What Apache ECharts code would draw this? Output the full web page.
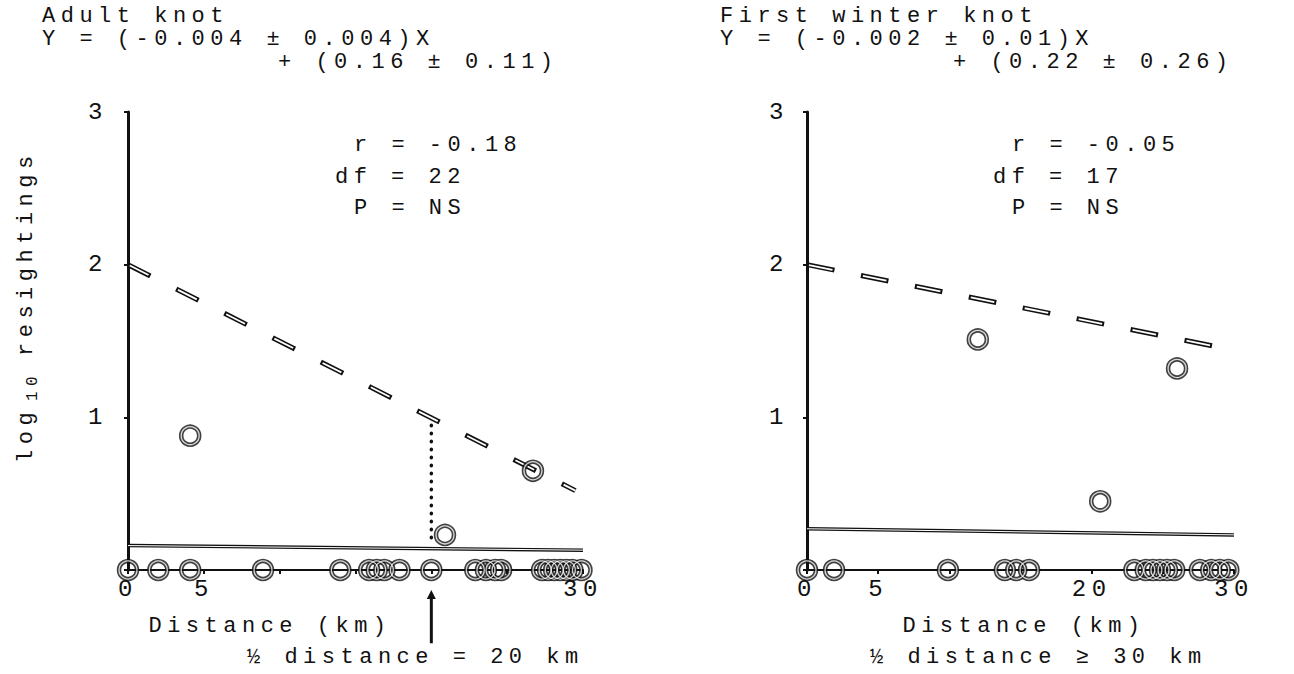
<!DOCTYPE html>
<html>
<head>
<meta charset="utf-8">
<script src="https://cdn.jsdelivr.net/npm/echarts@6/dist/echarts.min.js"></script>
<style>
html,body{margin:0;padding:0;background:#fff;}
#c{width:1294px;height:674px;}
svg text{letter-spacing:5.5px;}
</style>
</head>
<body>
<div id="c"></div>
<script>
// ---------- data ----------
const adultBaseX = [0, 2.0, 4.1, 8.9, 14.0, 15.9, 16.4, 16.9, 17.9, 20.0, 22.9, 23.6, 24.2, 24.6, 27.3, 27.7, 28.1, 28.5, 28.9, 29.3, 29.9];
const adultOtherX = [4.1, 26.7, 20.9];
const adultOtherY = [0.88, 0.65, 0.23];
const firstBaseX = [0, 1.9, 9.9, 13.9, 14.7, 15.6, 23.0, 23.8, 24.3, 24.8, 25.3, 25.8, 27.6, 28.4, 29.0, 29.6];
const firstOtherX = [12.0, 26.0, 20.6];
const firstOtherY = [1.51, 1.32, 0.45];

const fitX = [0, 30];
const adultFitY = [0.16, 0.13];
const firstFitY = [0.27, 0.23];
const adultHalfX = [0, 29.5];
const adultHalfY = [2.0, 0.52];
const firstHalfX = [0, 30];
const firstHalfY = [2.0, 1.44];
const adultHalfDistX = [20, 20];
const adultHalfDistY = [1.0, 0.18];
const arrowY = [-0.16, -0.48];

const yTickLabels = [1, 2, 3];
const adultXTickLabels = [0, 5, 30];
const firstXTickLabels = [0, 5, 20, 30];

// ---------- helpers ----------
const zip = (xs, ys) => xs.map((x, i) => [x, ys[i]]);
const FONT = '"Liberation Mono", "DejaVu Sans Mono", monospace';
const INK = '#111';
const FS = 22;

function ringSeries(data, gi) {
  return [
    {type: 'scatter', xAxisIndex: gi, yAxisIndex: gi, data, clip: false, symbol: 'circle', symbolSize: 18,
     itemStyle: {color: 'rgba(0,0,0,0)', borderColor: INK, borderWidth: 4.5}, z: 5, silent: true},
    {type: 'scatter', xAxisIndex: gi, yAxisIndex: gi, data, clip: false, symbol: 'circle', symbolSize: 18,
     itemStyle: {color: 'rgba(0,0,0,0)', borderColor: '#fff', borderWidth: 1.3}, z: 6, silent: true}
  ];
}
function hollowDash(data, gi, dash, gap) {
  return [
    {type: 'line', xAxisIndex: gi, yAxisIndex: gi, data, showSymbol: false, silent: true, z: 3,
     lineStyle: {color: INK, width: 5, type: [dash, gap]}},
    {type: 'line', xAxisIndex: gi, yAxisIndex: gi, data, showSymbol: false, silent: true, z: 4,
     lineStyle: {color: '#fff', width: 1.8, type: [dash - 4, gap + 4], dashOffset: -2}}
  ];
}
function fitSeries(data, gi) {
  return [
    {type: 'line', xAxisIndex: gi, yAxisIndex: gi, data, showSymbol: false, silent: true, z: 3,
     lineStyle: {color: INK, width: 3.5}},
    {type: 'line', xAxisIndex: gi, yAxisIndex: gi, data, showSymbol: false, silent: true, z: 4,
     lineStyle: {color: '#fff', width: 1}}
  ];
}
function xAxis(gi, labels) {
  return {
    type: 'value', gridIndex: gi, min: 0, max: 30, interval: 5,
    axisLine: {show: true, onZero: false, lineStyle: {color: INK, width: 2}},
    axisTick: {show: true, length: 4, lineStyle: {color: INK, width: 2}},
    splitLine: {show: false},
    axisLabel: {margin: 7, color: INK, fontFamily: FONT, fontSize: FS + 2,
      formatter: v => labels.includes(v) ? String(v) : ''}
  };
}
function yAxis(gi, margin) {
  return {
    type: 'value', gridIndex: gi, min: 0, max: 3, interval: 1,
    axisLine: {show: true, lineStyle: {color: INK, width: 3}},
    axisTick: {show: true, length: 4, lineStyle: {color: INK, width: 2}},
    splitLine: {show: false},
    axisLabel: {margin, color: INK, fontFamily: FONT, fontSize: FS + 2,
      formatter: v => yTickLabels.includes(v) ? String(v) : ''}
  };
}
function txt(text, x, y, align, size, rot) {
  return {type: 'text', x, y, silent: true, rotation: rot || 0,
    style: {text, fill: INK, font: (size || FS) + 'px ' + FONT, align: align || 'left', verticalAlign: 'middle'}};
}

const chart = echarts.init(document.getElementById('c'), null, {renderer: 'svg'});

const option = {
  backgroundColor: '#fff',
  animation: false,
  grid: [
    {left: 128, width: 455, top: 112, height: 458},
    {left: 807, width: 427, top: 112, height: 458}
  ],
  xAxis: [xAxis(0, adultXTickLabels), xAxis(1, firstXTickLabels)],
  yAxis: [yAxis(0, 20), yAxis(1, 18)],
  series: [
    ...hollowDash(zip(adultHalfX, adultHalfY), 0, 25, 29),
    ...fitSeries(zip(fitX, adultFitY), 0),
    {type: 'line', xAxisIndex: 0, yAxisIndex: 0, data: zip(adultHalfDistX, adultHalfDistY), showSymbol: false, silent: true, z: 3,
     lineStyle: {color: INK, width: 3.5, type: [0.5, 7.5], cap: 'round'}},
    {type: 'line', xAxisIndex: 0, yAxisIndex: 0, clip: false, silent: true, z: 3,
     data: [{value: [20, arrowY[0]], symbol: 'triangle', symbolSize: [9, 9]}, {value: [20, arrowY[1]], symbol: 'none'}],
     showSymbol: true, itemStyle: {color: INK}, lineStyle: {color: INK, width: 3}},
    ...ringSeries(adultBaseX.map(x => [x, 0]).concat(zip(adultOtherX, adultOtherY)), 0),

    ...hollowDash(zip(firstHalfX, firstHalfY), 1, 28, 27),
    ...fitSeries(zip(fitX, firstFitY), 1),
    ...ringSeries(firstBaseX.map(x => [x, 0]).concat(zip(firstOtherX, firstOtherY)), 1)
  ],
  graphic: [
    txt('Adult knot', 42, 16),
    txt('Y = (-0.004 ± 0.004)X', 42, 39),
    txt('+ (0.16 ± 0.11)', 278, 62),
    txt('r = -0.18', 354, 145),
    txt('df = 22', 335, 177),
    txt('P = NS', 354, 208),
    txt('Distance (km)', 270, 626, 'center'),
    txt('½ distance = 20 km', 247, 657),

    txt('First winter knot', 720, 16),
    txt('Y = (-0.002 ± 0.01)X', 720, 39),
    txt('+ (0.22 ± 0.26)', 953, 62),
    txt('r = -0.05', 1012, 145),
    txt('df = 17', 993, 177),
    txt('P = NS', 1012, 208),
    txt('Distance (km)', 1024, 626, 'center'),
    txt('½ distance ≥ 30 km', 870, 657),

    txt('log', 26, 463, 'left', FS, Math.PI / 2),
    txt('10', 33, 401, 'left', 16, Math.PI / 2),
    txt('resightings', 26, 356, 'left', FS, Math.PI / 2)
  ]
};
chart.setOption(option);
</script>
</body>
</html>
